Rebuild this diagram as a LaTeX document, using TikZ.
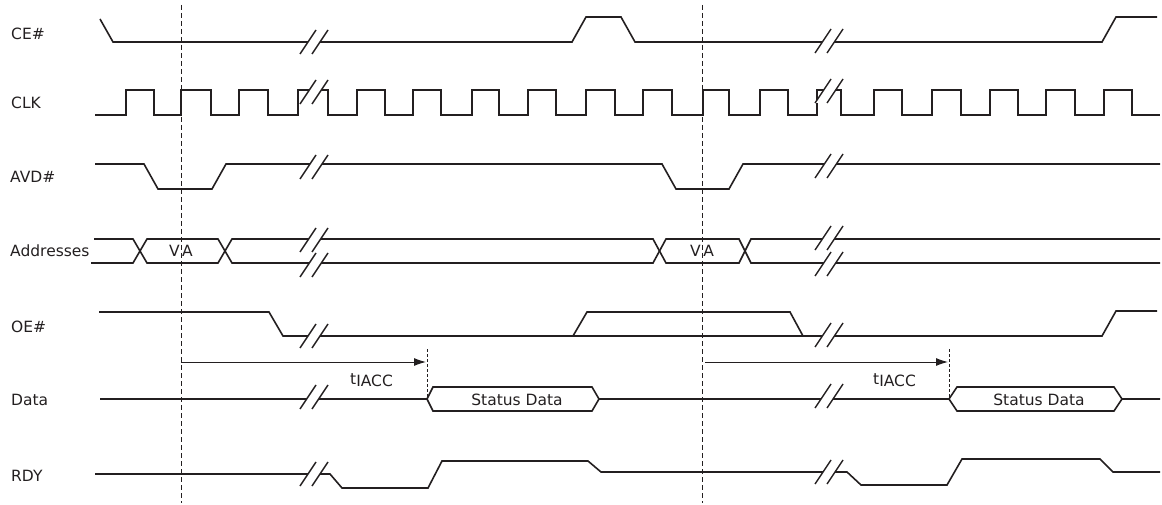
\documentclass[tikz,border=0pt]{standalone}
\usepackage{fontspec}
\setmainfont{DejaVu Sans}
\usetikzlibrary{arrows.meta}
\definecolor{ink}{RGB}{35,31,32}
\newcommand{\sigbreak}[2]{%
  \fill[white] (#1,#2+12)--(#1+16,#2-12)--(#1+28,#2-12)--(#1+12,#2+12)--cycle;
  \draw[slashline] (#1,#2+12)--(#1+16,#2-12) (#1+12,#2+12)--(#1+28,#2-12);}
\begin{document}
\begin{tikzpicture}[x=1pt,y=-1pt,
  sig/.style={ink, line width=1.6pt, line join=miter},
  slashline/.style={ink, line width=1.4pt},
  guide/.style={ink, line width=0.8pt, dash pattern=on 5pt off 3pt},
  tickline/.style={ink, line width=0.8pt, dash pattern=on 3pt off 2pt},
  timearrow/.style={ink, line width=1pt, -{Latex[length=12pt,width=8pt]}},
  lbl/.style={anchor=base west, inner sep=0pt, text=ink, font=\fontsize{15.5}{18}\selectfont},
  inlbl/.style={anchor=base, inner sep=0pt, text=ink, font=\fontsize{15.5}{18}\selectfont}]
\useasboundingbox (0,0) rectangle (1162,505);

% signal labels
\node[lbl] (lce) at (11,40) {CE\#};
\node[lbl] (lclk) at (11,109) {CLK};
\node[lbl] (lavd) at (10,183) {AVD\#};
\node[lbl] (laddr) at (10,257) {Addresses};
\node[lbl] (loe) at (11,332) {OE\#};
\node[lbl] (ldata) at (11,405) {Data};
\node[lbl] (lrdy) at (11,481) {RDY};

% CE#
\draw[sig] (100,19)--(113,42)--(572,42)--(586,17)--(621,17)--(635,42)--(1102,42)--(1116,17)--(1157,17);
\sigbreak{300}{42}\sigbreak{815}{41}

% CLK
\draw[sig] (95,115) -| (126,90) -| (154,115) -| (181,90) -| (211,115) -| (239,90)
  -| (268,115) -| (298,90) -| (328,115) -| (357,90) -| (385,115) -| (413,90)
  -| (441,115) -| (472,90) -| (499,115) -| (528,90) -| (556,115) -| (586,90)
  -| (615,115) -| (643,90) -| (672,115) -| (703,90) -| (729,115) -| (760,90)
  -| (788,115) -| (817,90) -| (841,115) -| (874,90) -| (902,115) -| (932,90)
  -| (961,115) -| (990,90) -| (1018,115) -| (1046,90) -| (1075,115) -| (1104,90)
  -| (1132,115) -- (1160,115);
\sigbreak{300}{92}\sigbreak{815}{91}

% AVD#
\draw[sig] (95,164)--(144,164)--(158,189)--(212,189)--(226,164)--(662,164)--(676,189)--(729,189)--(743,164)--(1160,164);
\sigbreak{300}{167}\sigbreak{815}{166}

% Addresses
\draw[sig] (94,239)--(133,239)--(147,263)--(218,263)--(232,239)--(653,239)--(666,263)--(739,263)--(751,239)--(1160,239);
\draw[sig] (91,263)--(133,263)--(147,239)--(218,239)--(232,263)--(653,263)--(666,239)--(739,239)--(751,263)--(1160,263);
\sigbreak{300}{240}\sigbreak{300}{265}\sigbreak{815}{238}\sigbreak{815}{264}
\node[inlbl] (va1) at (181,257) {V\kern2.5pt A};
\node[inlbl] (va2) at (702,257) {V\kern2.5pt A};

% OE#
\draw[sig] (99,312)--(269,312)--(283,336)--(1102,336)--(1116,311)--(1157,311);
\draw[sig] (573,336)--(587,312)--(790,312)--(803,336);
\sigbreak{300}{336}\sigbreak{815}{335}

% Data
\draw[sig] (100,399)--(427,399)--(433,387)--(592,387)--(599,399)--(949,399)--(957,387)--(1114,387)--(1122,399)--(1160,399);
\draw[sig] (427,399)--(433,411)--(592,411)--(599,399);
\draw[sig] (949,399)--(957,411)--(1114,411)--(1122,399);
\sigbreak{300}{397}\sigbreak{815}{396}
\node[inlbl] (sd1) at (517,405) {Status Data};
\node[inlbl] (sd2) at (1039,405) {Status Data};

% RDY
\draw[sig] (95,474)--(330,474)--(342,488)--(428,488)--(442,461)--(588,461)--(601,472)--(847,472)--(861,485)--(947,485)--(962,459)--(1100,459)--(1113,472)--(1160,472);
\sigbreak{300}{474}\sigbreak{815}{472}

% reference lines
\coordinate (g1t) at (181,5); \coordinate (g1b) at (181,503);
\coordinate (g2t) at (702,5); \coordinate (g2b) at (702,503);
\draw[guide] (g1t)--(g1b);
\draw[guide] (g2t)--(g2b);

% tIACC
\coordinate (a1s) at (181,362); \coordinate (a1e) at (426,362);
\coordinate (k1t) at (427,349); \coordinate (k1b) at (427,399);
\coordinate (a2s) at (705,362); \coordinate (a2e) at (948,362);
\coordinate (k2t) at (949,349); \coordinate (k2b) at (949,399);
\draw[timearrow] (a1s)--(a1e);
\draw[timearrow] (a2s)--(a2e);
\draw[tickline] (k1t)--(k1b);
\draw[tickline] (k2t)--(k2b);
\node[lbl] (t1) at (350,384) {t\raisebox{-2pt}{IACC}};
\node[lbl] (t2) at (873,384) {t\raisebox{-2pt}{IACC}};
\end{tikzpicture}
\end{document}
